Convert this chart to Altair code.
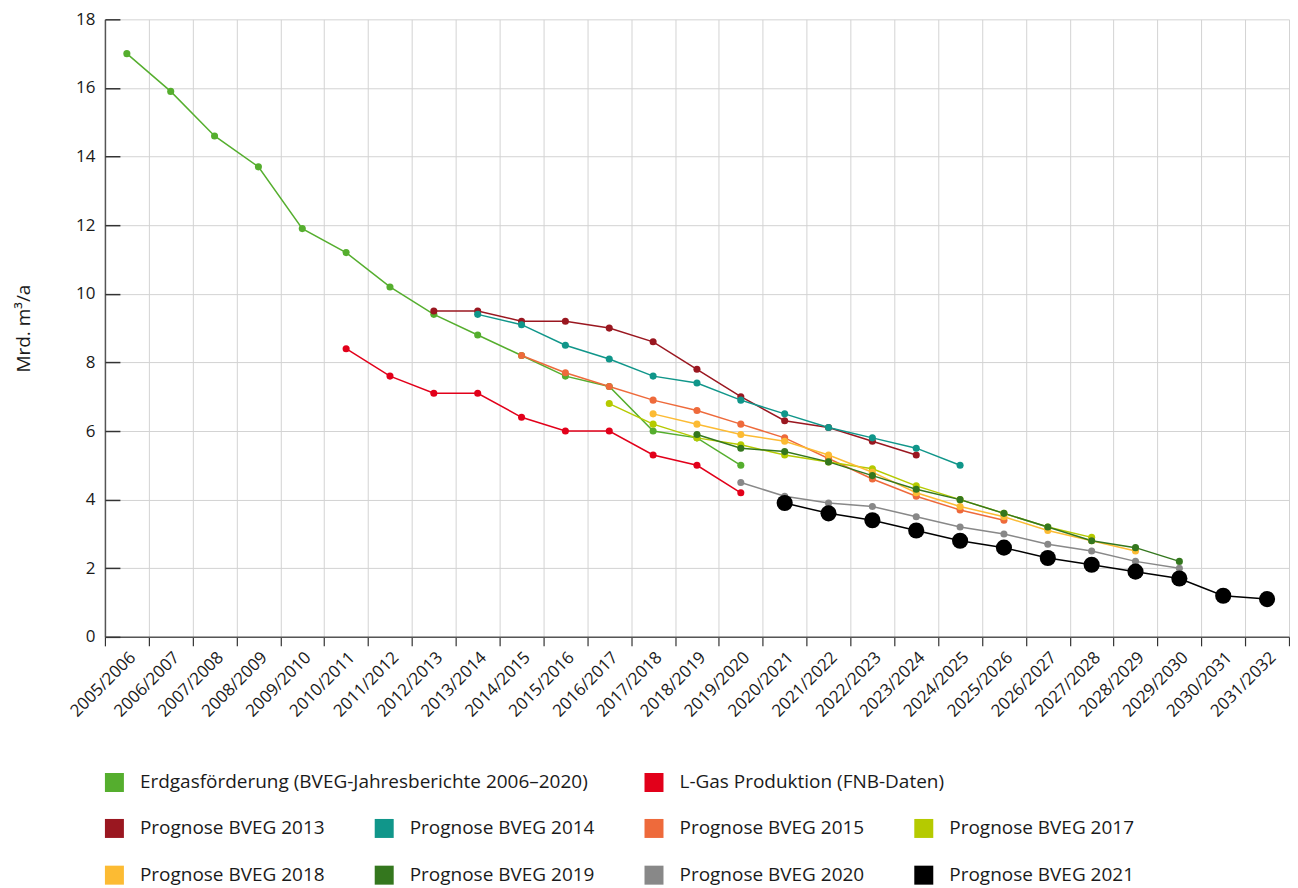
import altair as alt
import pandas as pd

periods = ["2005/2006", "2006/2007", "2007/2008", "2008/2009", "2009/2010",
           "2010/2011", "2011/2012", "2012/2013", "2013/2014", "2014/2015",
           "2015/2016", "2016/2017", "2017/2018", "2018/2019", "2019/2020",
           "2020/2021", "2021/2022", "2022/2023", "2023/2024", "2024/2025",
           "2025/2026", "2026/2027", "2027/2028", "2028/2029", "2029/2030",
           "2030/2031", "2031/2032"]

N = None
erdgas = [17.0, 15.9, 14.6, 13.7, 11.9, 11.2, 10.2, 9.4, 8.8, 8.2, 7.6, 7.3, 6.0, 5.8, 5.0,
          N, N, N, N, N, N, N, N, N, N, N, N]
lgas = [N, N, N, N, N, 8.4, 7.6, 7.1, 7.1, 6.4, 6.0, 6.0, 5.3, 5.0, 4.2,
        N, N, N, N, N, N, N, N, N, N, N, N]
p2013 = [N, N, N, N, N, N, N, 9.5, 9.5, 9.2, 9.2, 9.0, 8.6, 7.8, 7.0, 6.3, 6.1, 5.7, 5.3,
         N, N, N, N, N, N, N, N]
p2014 = [N, N, N, N, N, N, N, N, 9.4, 9.1, 8.5, 8.1, 7.6, 7.4, 6.9, 6.5, 6.1, 5.8, 5.5, 5.0,
         N, N, N, N, N, N, N]
p2015 = [N, N, N, N, N, N, N, N, N, 8.2, 7.7, 7.3, 6.9, 6.6, 6.2, 5.8, 5.2, 4.6, 4.1, 3.7, 3.4,
         N, N, N, N, N, N]
p2017 = [N, N, N, N, N, N, N, N, N, N, N, 6.8, 6.2, 5.8, 5.6, 5.3, 5.1, 4.9, 4.4, 4.0, 3.6, 3.2, 2.9,
         N, N, N, N]
p2018 = [N, N, N, N, N, N, N, N, N, N, N, N, 6.5, 6.2, 5.9, 5.7, 5.3, 4.8, 4.2, 3.8, 3.5, 3.1, 2.8, 2.5,
         N, N, N]
p2019 = [N, N, N, N, N, N, N, N, N, N, N, N, N, 5.9, 5.5, 5.4, 5.1, 4.7, 4.3, 4.0, 3.6, 3.2, 2.8, 2.6, 2.2,
         N, N]
p2020 = [N, N, N, N, N, N, N, N, N, N, N, N, N, N, 4.5, 4.1, 3.9, 3.8, 3.5, 3.2, 3.0, 2.7, 2.5, 2.2, 2.0,
         N, N]
p2021 = [N, N, N, N, N, N, N, N, N, N, N, N, N, N, N, 3.9, 3.6, 3.4, 3.1, 2.8, 2.6, 2.3, 2.1, 1.9, 1.7, 1.2, 1.1]

names_a = ["Erdgasförderung (BVEG-Jahresberichte 2006–2020)", "L-Gas Produktion (FNB-Daten)"]
colors_a = ["#55ae2e", "#e2001a"]
names_b = ["Prognose BVEG 2013", "Prognose BVEG 2014", "Prognose BVEG 2015", "Prognose BVEG 2017",
           "Prognose BVEG 2018", "Prognose BVEG 2019", "Prognose BVEG 2020", "Prognose BVEG 2021"]
colors_b = ["#9a1720", "#10968a", "#ee6a3b", "#b5ca00", "#fcbb33", "#34771e", "#888888", "#000000"]
series_vals = [erdgas, lgas, p2013, p2014, p2015, p2017, p2018, p2019, p2020, p2021]
all_names = names_a + names_b
all_colors = colors_a + colors_b

rows = []
for name, vals in zip(all_names, series_vals):
    for per, v in zip(periods, vals):
        if v is not None:
            rows.append({"period": per, "series": name, "value": v})
df = pd.DataFrame(rows)

FONT_SIZE = 17
LEG_SIZE = 19
TXT = "#1a1a1a"
GRID = "#d3d3d3"

x_enc = alt.X(
    "period:N", sort=periods, title=None, bandPosition=0.5,
    scale=alt.Scale(type="band", domain=periods, paddingInner=0, paddingOuter=0),
    axis=alt.Axis(tickBand="extent", labelAngle=-45, grid=True, gridColor=GRID,
                  tickSize=9, tickColor="#333333", tickWidth=1.2,
                  domainColor="#555555", domainWidth=1.5,
                  labelFontSize=FONT_SIZE, labelColor=TXT, labelPadding=3),
)

yvals = [0, 2, 4, 6, 8, 10, 12, 14, 16, 18]
y_scale = alt.Scale(domain=[0, 18], nice=False)

y_main = alt.Y(
    "value:Q", scale=y_scale,
    axis=alt.Axis(orient="left", title="Mrd. m³/a", values=yvals, ticks=False, grid=True,
                  gridColor=GRID, domainColor="#555555", domainWidth=1.5,
                  labelPadding=10, labelFontSize=FONT_SIZE, labelColor=TXT,
                  titlePadding=42, titleFontSize=19, titleFontWeight="normal",
                  titleColor=TXT),
)
y_ticks = alt.Y(
    "value:Q", scale=y_scale,
    axis=alt.Axis(orient="left", title=None, labels=False, domain=False, grid=False,
                  ticks=True, tickSize=15, offset=-15, values=yvals,
                  tickColor="#333333", tickWidth=1.5),
)
y_none = alt.Y("value:Q", scale=y_scale, axis=None)

base = alt.Chart(df)

lines = base.mark_line(strokeWidth=1.5).encode(
    x=x_enc, y=y_main,
    stroke=alt.Stroke("series:N", scale=alt.Scale(domain=all_names, range=all_colors), legend=None),
)

pts_a = base.transform_filter(
    alt.FieldOneOfPredicate(field="series", oneOf=names_a)
).mark_circle(size=50, opacity=1).encode(
    x=x_enc, y=y_ticks,
    fill=alt.Fill("series:N", scale=alt.Scale(domain=names_a, range=colors_a),
                  legend=alt.Legend(title=None, orient="none", legendX=0, legendY=754,
                                    columns=2, direction="horizontal",
                                    symbolType="square", symbolSize=361,
                                    symbolStrokeWidth=0, labelFontSize=LEG_SIZE,
                                    labelColor=TXT, labelOffset=16, columnPadding=56,
                                    labelLimit=800)),
)

pts_b = base.transform_filter(
    alt.FieldOneOfPredicate(field="series", oneOf=names_b)
).mark_circle(opacity=1).encode(
    x=x_enc, y=y_none,
    color=alt.Color("series:N", scale=alt.Scale(domain=names_b, range=colors_b),
                    legend=alt.Legend(title=None, orient="none", legendX=0, legendY=800,
                                      columns=4, direction="horizontal", gridAlign="all",
                                      symbolType="square", symbolSize=361,
                                      symbolStrokeWidth=0,
                                      labelFontSize=LEG_SIZE, labelColor=TXT,
                                      labelOffset=16, columnPadding=49, rowPadding=27,
                                      labelLimit=800)),
    size=alt.condition("datum.series === 'Prognose BVEG 2021'", alt.value(260), alt.value(50)),
)

chart = alt.layer(lines, pts_a, pts_b).resolve_scale(
    y="shared"
).resolve_axis(
    y="independent"
).properties(
    width=1185, height=618,
    padding={"left": 6, "top": 2, "right": 0, "bottom": 0},
).configure(
    font="Open Sans"
).configure_view(
    stroke=None
)

chart.save("out.html", embed_options={"renderer": "svg", "actions": False})
